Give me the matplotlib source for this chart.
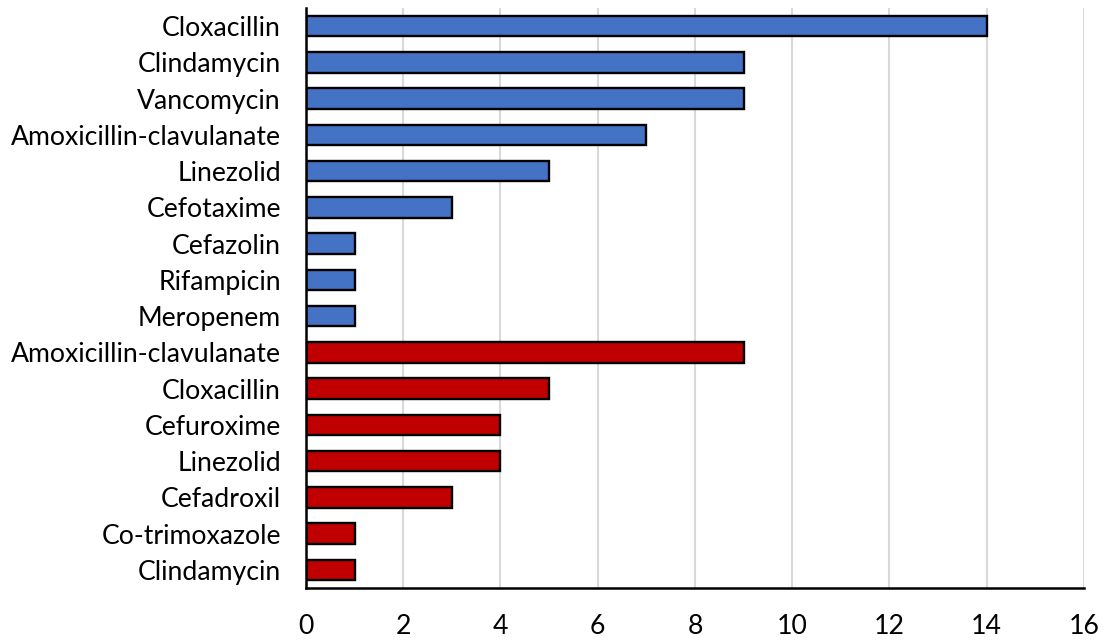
import matplotlib
matplotlib.use("Agg")
import matplotlib.pyplot as plt
import numpy as np

# Antibiotics listed top to bottom; first group blue, second group red
drugs = ["Cloxacillin", "Clindamycin", "Vancomycin", "Amoxicillin-clavulanate",
         "Linezolid", "Cefotaxime", "Cefazolin", "Rifampicin", "Meropenem",
         "Amoxicillin-clavulanate", "Cloxacillin", "Cefuroxime", "Linezolid",
         "Cefadroxil", "Co-trimoxazole", "Clindamycin"]
counts = [14, 9, 9, 7, 5, 3, 1, 1, 1,
          9, 5, 4, 4, 3, 1, 1]
group = ["blue"] * 9 + ["red"] * 7
xticks = [0, 2, 4, 6, 8, 10, 12, 14, 16]

palette = {"blue": "#4472C4", "red": "#C00000"}

plt.rcParams['font.family'] = ['Lato', 'DejaVu Sans']

fig = plt.figure(figsize=(11.06, 6.42), dpi=100)
ax = fig.add_axes([0.2767, 0.0841, 0.7033, 0.9034])

y = np.arange(len(drugs))
ax.barh(y, counts, height=0.56, color=[palette[g] for g in group],
        edgecolor="black", linewidth=1.7, zorder=3)

ax.set_ylim(len(drugs) - 0.5, -0.5)
ax.set_yticks(y)
ax.set_yticklabels(drugs, fontsize=19.2)
ax.set_xlim(0, 16)
ax.set_xticks(xticks)
ax.set_xticklabels([str(t) for t in xticks], fontsize=19.2)
ax.tick_params(axis="y", length=0, pad=18)
ax.tick_params(axis="x", length=0, pad=19)

ax.grid(axis="x", color="#d9d9d9", linewidth=1.5, zorder=0)
for side in ["top", "right"]:
    ax.spines[side].set_visible(False)
for side in ["left", "bottom"]:
    ax.spines[side].set_color("black")
    ax.spines[side].set_linewidth(1.8)
    ax.spines[side].set_zorder(4)

fig.savefig("out.png", dpi=100)
